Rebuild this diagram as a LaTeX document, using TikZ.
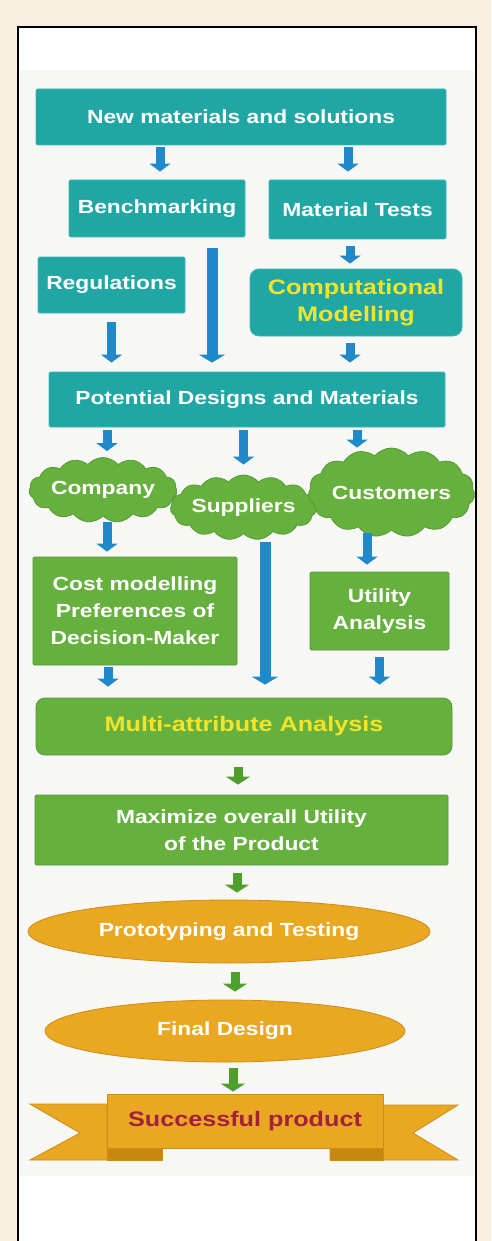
\documentclass[tikz,border=0pt]{standalone}
\usepackage{fontspec}
\setmainfont{Liberation Sans}[FakeStretch=1.2]
\usepackage{tikz}
\usetikzlibrary{arrows.meta,shapes.geometric,shapes.symbols}
\definecolor{cream}{HTML}{F9EFE0}
\definecolor{paper}{HTML}{F7F7F5}
\definecolor{tealfill}{HTML}{20A7A4}
\definecolor{tealedge}{HTML}{3BB7B4}
\definecolor{leaf}{HTML}{66B03E}
\definecolor{leafedge}{HTML}{559A33}
\definecolor{amber}{HTML}{E9A722}
\definecolor{amberedge}{HTML}{CC8E14}
\definecolor{amberfold}{HTML}{C8870F}
\definecolor{arrowblue}{HTML}{2089C9}
\definecolor{arrowgreen}{HTML}{4E9F2B}
\definecolor{lemon}{HTML}{F3E42A}
\definecolor{wine}{HTML}{A3213C}

\begin{document}
\begin{tikzpicture}[
      x=1pt,y=-1pt,
      font=\bfseries\fontsize{19}{27}\selectfont,
      box/.style={rectangle,text=white,align=center,inner sep=0pt,line width=0.8pt},
      tbox/.style={box,fill=tealfill,draw=tealedge,rounded corners=1.5pt},
      gbox/.style={box,fill=leaf,draw=leafedge,rounded corners=1.5pt},
      big/.style={font=\bfseries\fontsize{21}{27}\selectfont},
      blob/.style={cloud,cloud puffs=15,cloud puff arc=100,cloud ignores aspect,
        fill=leaf,draw=leafedge,line width=0.8pt,text=white,inner sep=0pt},
      oval/.style={ellipse,fill=amber,draw=amberedge,line width=0.8pt,text=white,inner sep=0pt},
      tail/.style={fill=amber,draw=amberedge,line width=0.8pt},
      arr/.style={-{Triangle[length=8pt,width=21pt]},line width=9pt,arrowblue},
      longarr/.style={arr,-{Triangle[length=8pt,width=26pt]},line width=11pt},
      garr/.style={arr,arrowgreen,-{Triangle[length=8pt,width=24pt]}}]
      \useasboundingbox (0,0) rectangle (491,1241);
      \fill[cream] (0,0) rectangle (491,1241);
      \draw[fill=white,line width=2pt] (18,27) rectangle (476,1250);
      \fill[paper] (20,70) rectangle (474,1176);
      % upper part
      \node[tbox,minimum width=410,minimum height=56] (new) at (241,117) {New materials and solutions};
      \node[tbox,minimum width=176,minimum height=57] (bench) at (157,208.5) {Benchmarking};
      \node[tbox,minimum width=177,minimum height=59] (mtests) at (357.5,209.5) {Material Tests};
      \node[tbox,minimum width=147,minimum height=56] (regs) at (111.5,285) {Regulations};
      \node[tbox,big,text=lemon,rounded corners=9pt,minimum width=212,minimum height=67] (comp) at (356,302.5) {Computational\\Modelling};
      \node[tbox,minimum width=396,minimum height=55] (pot) at (247,399.5) {Potential Designs and Materials};
      % stakeholders
      \node[blob,minimum width=148,minimum height=65] (company) at (103,490) {Company};
      \node[blob,minimum width=123,minimum height=65] (suppliers) at (243.5,507.5) {Suppliers};
      \node[blob,minimum width=163,minimum height=89] (customers) at (391.5,492.5) {Customers};
      \node[gbox,minimum width=204,minimum height=108] (cost) at (135,611) {Cost modelling\\Preferences of\\Decision-Maker};
      \node[gbox,minimum width=139,minimum height=78] (util) at (379.5,611) {Utility\\Analysis};
      \node[gbox,big,text=lemon,rounded corners=9pt,minimum width=416,minimum height=57] (multi) at (244,726.5) {Multi-attribute Analysis};
      \node[gbox,minimum width=413,minimum height=70] (max) at (241.5,830) {Maximize overall Utility\\of the Product};
      % final steps
      \node[oval,minimum width=402,minimum height=63] (proto) at (229,931.5) {Prototyping and Testing};
      \node[oval,minimum width=360,minimum height=62] (final) at (225,1031) {Final Design};
      \coordinate (banc) at (245,1121);
      \begin{scope}[shift={(banc)}]
        \draw[tail] (-138,-17) -- (-215,-17) -- (-165,12) -- (-215,39) -- (-83,39) -- (-83,27) -- (-138,27) -- cycle;
        \draw[tail] (138,-16) -- (213,-16) -- (168,12) -- (213,39) -- (85,39) -- (85,27) -- (138,27) -- cycle;
        \draw[tail,fill=amberfold] (-138,27) rectangle (-83,39);
        \draw[tail,fill=amberfold] (85,27) rectangle (138,39);
      \end{scope}
      \node[box,big,fill=amber,draw=amberedge,text=wine,minimum width=276,minimum height=54] (ban) at (banc) {Successful product};
      % connectors
      \draw[arr,shorten <=2pt,shorten >=8pt] ([xshift=3pt]bench.north |- new.south) -- ([xshift=3pt]bench.north);
      \draw[arr,shorten <=2pt,shorten >=8pt] ([xshift=-9.5pt]mtests.north |- new.south) -- ([xshift=-9.5pt]mtests.north);
      \draw[arr,shorten <=7pt,shorten >=5pt] ([xshift=-7.5pt]mtests.south) -- ([xshift=-7.5pt]mtests.south |- comp.north);
      \draw[longarr,shorten <=11pt,shorten >=9pt] ([xshift=55pt]bench.south) -- ([xshift=55pt]bench.south |- pot.north);
      \draw[arr,shorten <=9pt,shorten >=9pt] (regs.south) -- (regs.south |- pot.north);
      \draw[arr,shorten <=7pt,shorten >=9pt] ([xshift=-6pt]comp.south) -- ([xshift=-6pt]comp.south |- pot.north);
      \draw[arr,shorten <=3pt,shorten >=6pt] ([xshift=4pt]company.north |- pot.south) -- ([xshift=4pt]company.north);
      \draw[arr,shorten <=3pt,shorten >=10pt] (suppliers.north |- pot.south) -- (suppliers.north);
      \draw[arr,shorten <=3pt,shorten >=0pt] ([xshift=-34.5pt]customers.north |- pot.south) -- ([xshift=-34.5pt]customers.north);
      \draw[arr,shorten <=5pt,shorten >=5pt] ([xshift=4pt]company.south) -- ([xshift=4pt]company.south |- cost.north);
      \draw[longarr,shorten <=8pt,shorten >=13pt] ([xshift=21.5pt]suppliers.south) -- ([xshift=21.5pt]suppliers.south |- multi.north);
      \draw[arr,shorten <=3pt,shorten >=7pt] ([xshift=-24.5pt]customers.south) -- ([xshift=-24.5pt]customers.south |- util.north);
      \draw[arr,shorten <=2pt,shorten >=11pt] ([xshift=-27pt]cost.south) -- ([xshift=-27pt]cost.south |- multi.north);
      \draw[arr,shorten <=7pt,shorten >=13pt] (util.south) -- (util.south |- multi.north);
      \draw[garr,shorten <=12pt,shorten >=10pt] ([xshift=-6pt]multi.south) -- ([xshift=-6pt]multi.south |- max.north);
      \draw[garr,shorten <=8pt,shorten >=7pt] ([xshift=-4.5pt]max.south) -- ([xshift=-4.5pt]max.south |- proto.north);
      \draw[garr,shorten <=9pt,shorten >=8pt] ([xshift=6pt]proto.south) -- ([xshift=6pt]proto.south |- final.north);
      \draw[garr,shorten <=6pt,shorten >=2pt] ([xshift=8pt]final.south) -- ([xshift=8pt]final.south |- ban.north);
    \end{tikzpicture}
\end{document}
